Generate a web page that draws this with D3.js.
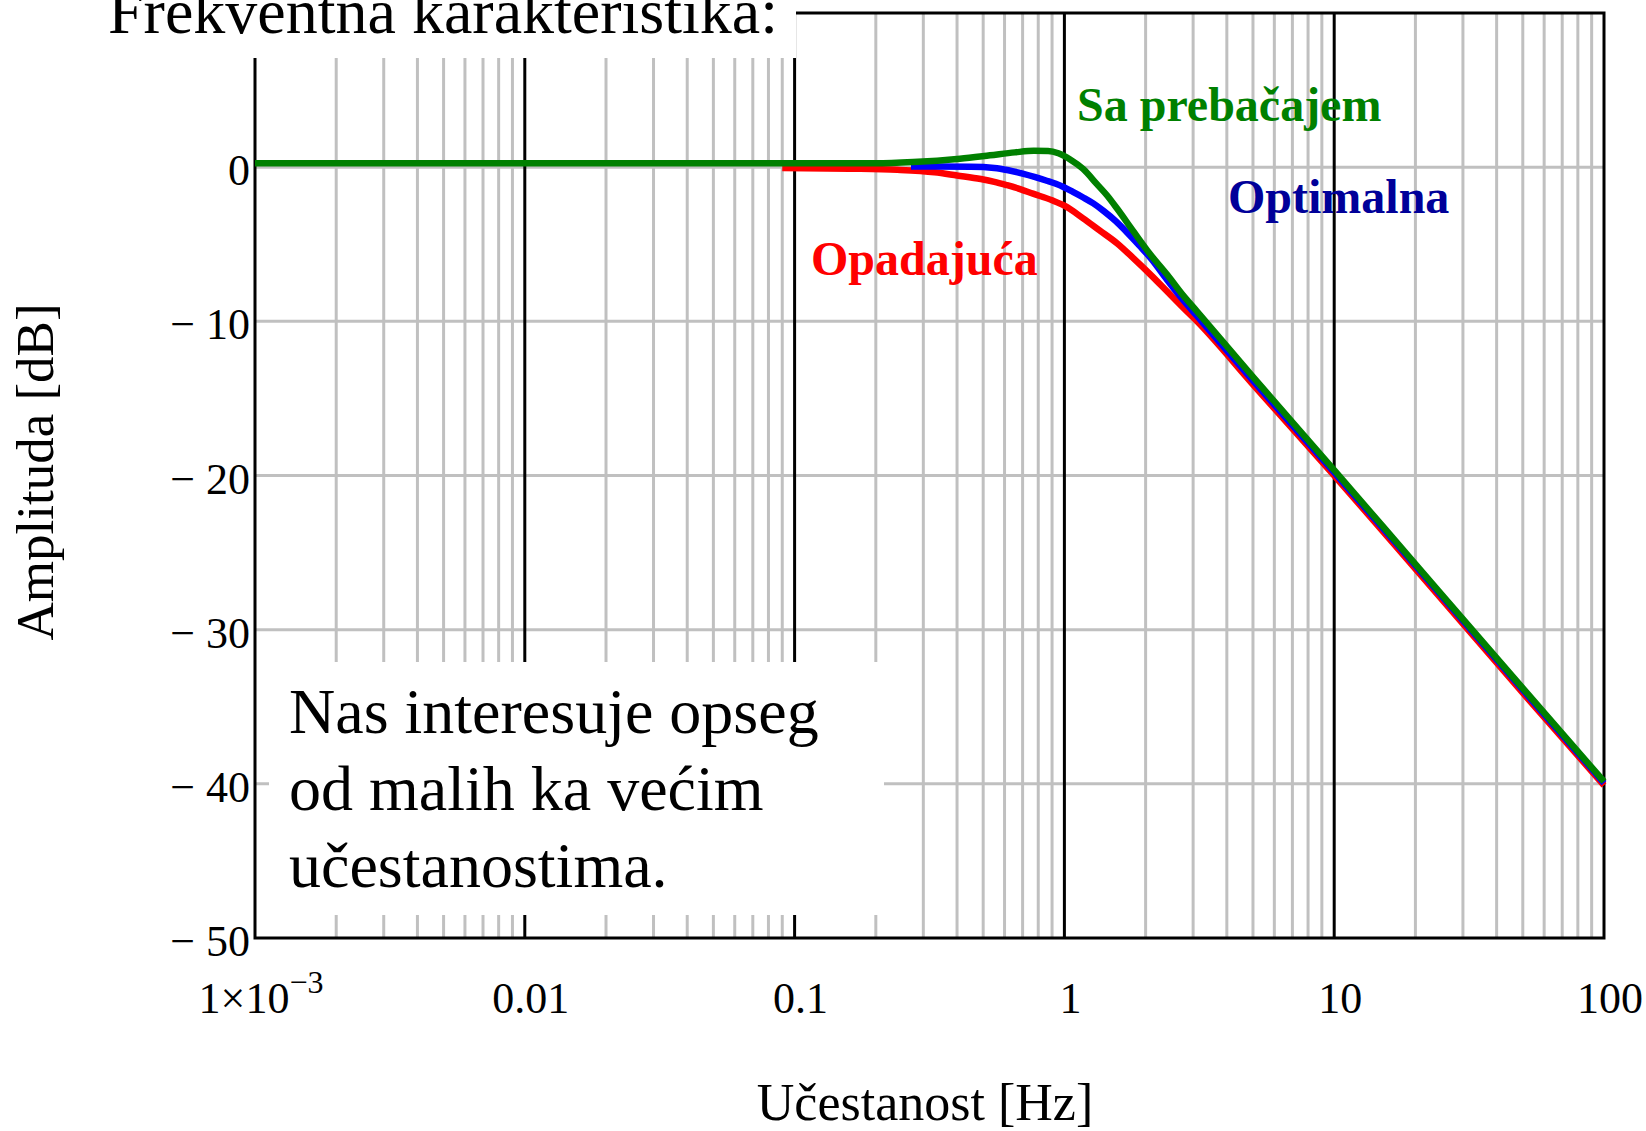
<!DOCTYPE html>
<html>
<head>
<meta charset="utf-8">
<script src="https://cdn.jsdelivr.net/npm/d3@7"></script>
<style>
  html, body { margin: 0; padding: 0; background: #fff; }
  svg { display: block; }
  text { font-family: "Liberation Serif", "Times New Roman", serif; }
</style>
</head>
<body>
<div id="chart"></div>
<script>
// frequency [Hz] / amplitude [dB] pairs
var opadajuca = [
    [0.09, -0.06], [0.16, -0.1], [0.24, -0.17], [0.33, -0.33], [0.4, -0.54],
    [0.49, -0.77], [0.55, -0.95], [0.61, -1.16], [0.685, -1.42], [0.765, -1.72],
    [0.9, -2.15], [1.0, -2.5], [1.17, -3.3], [1.35, -4.1], [1.57, -4.95],
    [1.8, -5.9], [2.08, -6.95], [2.4, -8.05], [2.75, -9.1], [3.1, -10.0],
    [5, -14.1], [10, -20.0], [20, -26.05], [50, -34.1], [100, -40.1]
];
var optimalna = [
    [0.27, 0.04], [0.45, 0.02], [0.55, -0.05], [0.62, -0.2], [0.7, -0.42],
    [0.78, -0.65], [0.86, -0.88], [0.93, -1.08], [1.0, -1.32], [1.08, -1.62],
    [1.17, -1.95], [1.28, -2.35], [1.4, -2.85], [1.55, -3.5], [1.7, -4.2],
    [1.9, -5.1], [2.1, -5.95], [2.4, -7.3], [2.75, -8.6], [3.1, -9.65],
    [5, -13.85], [10, -19.8], [20, -25.85], [50, -33.9], [100, -39.95]
];
var saPrebacajem = [
    [0.001, 0.25], [0.2, 0.25], [0.275, 0.33], [0.41, 0.55], [0.53, 0.77],
    [0.655, 0.96], [0.77, 1.06], [0.87, 1.05], [0.95, 0.9], [1.05, 0.5],
    [1.17, -0.1], [1.32, -1.1], [1.45, -1.9], [1.57, -2.7], [1.8, -4.15],
    [2.08, -5.65], [2.41, -7.0], [2.75, -8.3], [3.1, -9.35], [5, -13.6],
    [10, -19.65], [20, -25.75], [50, -33.8], [100, -39.85]
];

var freqTicks = [0.001, 0.01, 0.1, 1, 10, 100];
var freqLabels = ["1×10", "0.01", "0.1", "1", "10", "100"];
var dbTicks = [0, -10, -20, -30, -40, -50];
var annotation = ["Nas interesuje opseg", "od malih ka većim", "učestanostima."];

var width = 1646, height = 1131;

var x = d3.scaleLog()
    .domain([0.001, 100])
    .range([255, 1604]);

var y = d3.scaleLinear()
    .domain([-50, 10])
    .range([938, 13]);

var svg = d3.select("#chart")
    .append("svg")
    .attr("width", width)
    .attr("height", height);

// minor grid (2..9 in every decade)
var minor = [];
freqTicks.slice(0, -1).forEach(function (dec) {
    for (var k = 2; k <= 9; k++) minor.push(dec * k);
});

var grid = svg.append("g");

grid.selectAll("line.minor")
    .data(minor)
    .enter().append("line")
    .attr("x1", function (d) { return x(d); })
    .attr("x2", function (d) { return x(d); })
    .attr("y1", y(10))
    .attr("y2", y(-50))
    .style("stroke", "#c0c0c0")
    .style("stroke-width", 3);

grid.selectAll("line.hgrid")
    .data(dbTicks.slice(0, -1))
    .enter().append("line")
    .attr("x1", x(0.001))
    .attr("x2", x(100))
    .attr("y1", function (d) { return y(d); })
    .attr("y2", function (d) { return y(d); })
    .style("stroke", "#c0c0c0")
    .style("stroke-width", 3);

grid.selectAll("line.major")
    .data(freqTicks.slice(1, -1))
    .enter().append("line")
    .attr("x1", function (d) { return x(d); })
    .attr("x2", function (d) { return x(d); })
    .attr("y1", y(10))
    .attr("y2", y(-50))
    .style("stroke", "#000")
    .style("stroke-width", 3);

// frame
svg.append("rect")
    .attr("x", x(0.001))
    .attr("y", y(10))
    .attr("width", x(100) - x(0.001))
    .attr("height", y(-50) - y(10))
    .style("fill", "none")
    .style("stroke", "#000")
    .style("stroke-width", 3);

// white boxes behind the title and the note
svg.append("rect")
    .attr("x", 0).attr("y", 0)
    .attr("width", 796).attr("height", 58)
    .style("fill", "#fff");

svg.append("rect")
    .attr("x", 269).attr("y", 662)
    .attr("width", 884 - 269).attr("height", 915 - 662)
    .style("fill", "#fff");

// curves
var line = d3.line()
    .x(function (d) { return x(d[0]); })
    .y(function (d) { return y(d[1]); })
    .curve(d3.curveMonotoneX);

[[opadajuca, "#ff0000"], [optimalna, "#0000ff"], [saPrebacajem, "#008000"]]
    .forEach(function (s) {
        svg.append("path")
            .datum(s[0])
            .attr("d", line)
            .style("fill", "none")
            .style("stroke", s[1])
            .style("stroke-width", 6.5);
    });

// y tick labels
svg.append("g")
    .selectAll("text")
    .data(dbTicks)
    .enter().append("text")
    .attr("x", 250)
    .attr("y", function (d) { return y(d) + 18; })
    .attr("text-anchor", "end")
    .style("font-size", "44px")
    .text(function (d) { return d < 0 ? "\u2212 " + (-d) : d; });

// x tick labels
var xl = svg.append("g")
    .selectAll("text")
    .data(freqTicks)
    .enter().append("text")
    .attr("x", function (d, i) { return x(d) + 6; })
    .attr("y", 1013)
    .attr("text-anchor", "middle")
    .style("font-size", "44px");

xl.append("tspan")
    .text(function (d, i) { return freqLabels[i]; });
xl.filter(function (d, i) { return i === 0; })
    .append("tspan")
    .attr("dy", -20)
    .style("font-size", "32px")
    .text("\u22123");

// axis titles
svg.append("text")
    .attr("x", 925)
    .attr("y", 1120)
    .attr("text-anchor", "middle")
    .style("font-size", "52px")
    .text("Učestanost [Hz]");

svg.append("text")
    .attr("transform", "translate(53,472) rotate(-90)")
    .attr("text-anchor", "middle")
    .style("font-size", "53px")
    .text("Amplituda [dB]");

// title
svg.append("text")
    .attr("x", 108)
    .attr("y", 33)
    .style("font-size", "64px")
    .text("Frekventna karakteristika:");

// note
svg.append("g")
    .selectAll("text")
    .data(annotation)
    .enter().append("text")
    .attr("x", 289)
    .attr("y", function (d, i) { return 733 + i * 77; })
    .style("font-size", "64px")
    .text(function (d) { return d; });

// series labels
var labels = [
    {t: "Sa prebačajem", x: 1077, y: 121, c: "#008000"},
    {t: "Optimalna", x: 1228, y: 213, c: "#000099"},
    {t: "Opadajuća", x: 811, y: 275, c: "#ff0000"}
];
svg.append("g")
    .selectAll("text")
    .data(labels)
    .enter().append("text")
    .attr("x", function (d) { return d.x; })
    .attr("y", function (d) { return d.y; })
    .style("font-size", "48px")
    .style("font-weight", "bold")
    .style("fill", function (d) { return d.c; })
    .text(function (d) { return d.t; });
</script>
</body>
</html>
